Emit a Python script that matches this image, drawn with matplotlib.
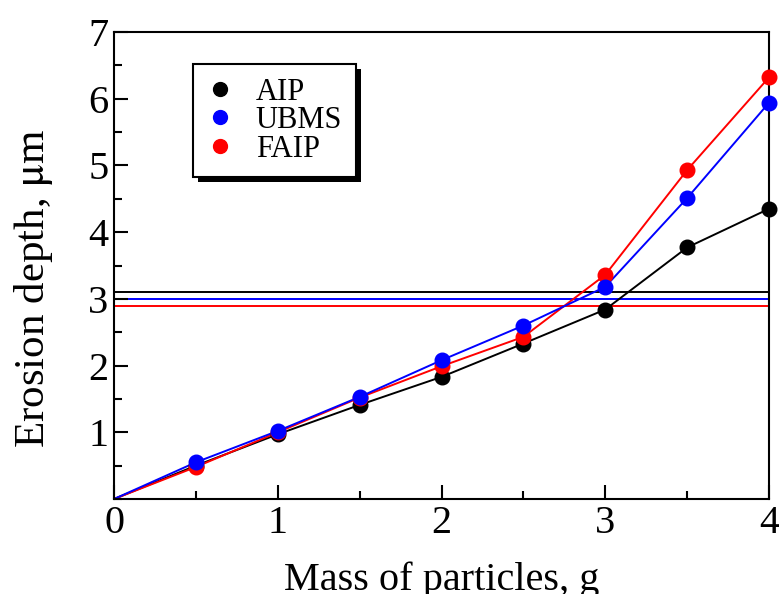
import matplotlib.pyplot as plt
import matplotlib.patheffects as pe
from matplotlib.ticker import MultipleLocator

plt.rcParams['font.family'] = ['Liberation Serif', 'DejaVu Serif']
plt.rcParams['mathtext.fontset'] = 'stix'

# mass of particles, g
mass = [0, 0.5, 1.0, 1.5, 2.0, 2.5, 3.0, 3.5, 4.0]

# erosion depth, um
aip = [0, 0.50, 0.97, 1.41, 1.83, 2.33, 2.84, 3.77, 4.35]
ubms = [0, 0.55, 1.02, 1.53, 2.08, 2.60, 3.18, 4.51, 5.94]
faip = [0, 0.48, 1.00, 1.52, 1.99, 2.43, 3.36, 4.93, 6.32]

# coating thickness levels
levels = {'AIP': 3.10, 'UBMS': 3.00, 'FAIP': 2.90}

series = [('AIP', aip, 'black'), ('FAIP', faip, 'red'), ('UBMS', ubms, 'blue')]

fig = plt.figure(figsize=(7.79, 5.94), dpi=100)
ax = fig.add_axes([114 / 779, 1 - 499 / 594, 655 / 779, 467 / 594])

handles = {}
for name, vals, color in series:
    ax.axhline(levels[name], color=color, linewidth=1.4, zorder=1)
    ax.plot(mass, vals, color=color, linewidth=1.4, zorder=2)
    h, = ax.plot(mass[1:], vals[1:], 'o', color=color, markersize=10.5, zorder=3,
                 clip_on=False, label=name)
    handles[name] = h

ax.set_xlim(0, 4)
ax.set_ylim(0, 7)
ax.xaxis.set_major_locator(MultipleLocator(1))
ax.xaxis.set_minor_locator(MultipleLocator(0.5))
ax.yaxis.set_minor_locator(MultipleLocator(0.5))
ax.set_yticks([1, 2, 3, 4, 5, 6, 7])
ax.tick_params(which='both', direction='in', top=False, right=False, width=1.5)
ax.tick_params(which='major', length=10, labelsize=29, pad=4)
ax.tick_params(which='minor', length=5.5)
for s in ax.spines.values():
    s.set_linewidth(1.5)

ax.set_xlabel('Mass of particles, g', fontsize=29, labelpad=14)
ax.set_ylabel('Erosion depth, $\\mathrm{\\mu}$m', fontsize=31, labelpad=24)
ax.yaxis.label.set_y(0.45)

names = ['AIP', 'UBMS', 'FAIP']
leg = ax.legend([handles[n] for n in names], names,
                loc='upper left', bbox_to_anchor=(0.1206, 0.9315), borderaxespad=0,
                fontsize=22, fancybox=False, framealpha=1, edgecolor='black',
                borderpad=0.45, handletextpad=0.75, labelspacing=-0.02,
                markerscale=0.95, handlelength=0.85)
frame = leg.get_frame()
frame.set_linewidth(1.5)
frame.set_path_effects([pe.SimplePatchShadow(offset=(3.5, -3.5), shadow_rgbFace='black', alpha=1),
                        pe.Normal()])

fig.savefig('out.png', dpi=100)
